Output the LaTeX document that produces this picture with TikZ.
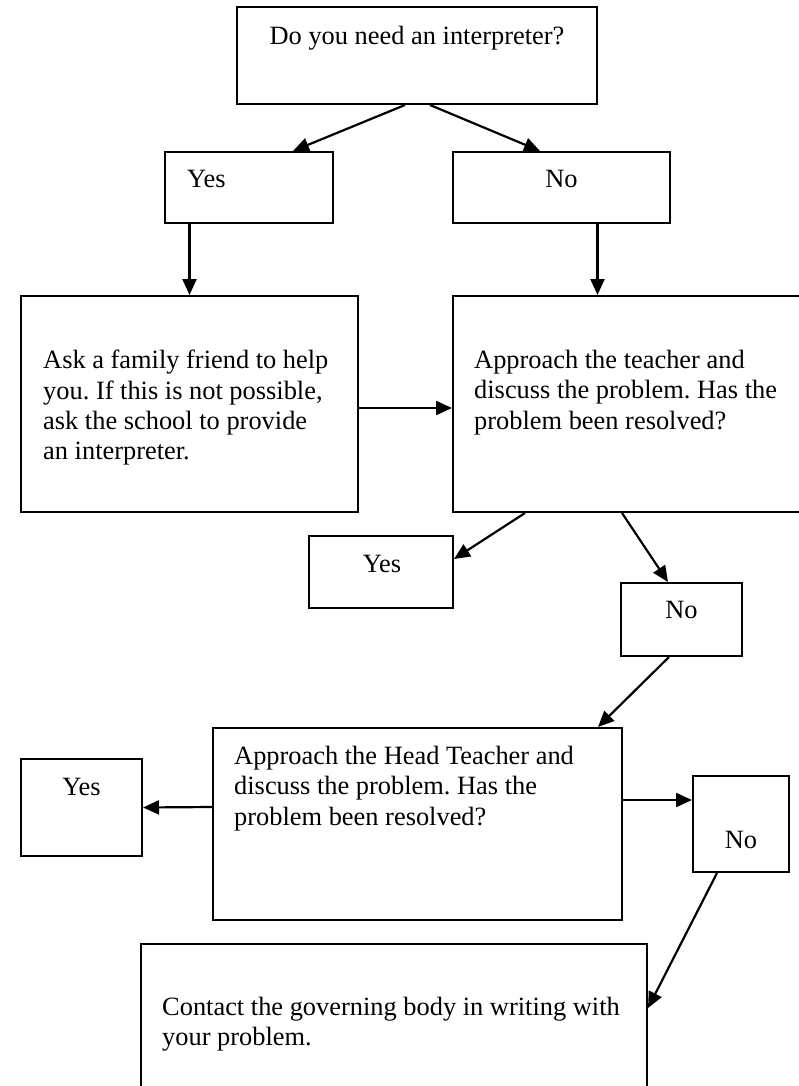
\documentclass[tikz,border=0pt]{standalone}
\usepackage{fontspec}
\setmainfont{Liberation Serif}
\usetikzlibrary{arrows.meta}
\frenchspacing

\begin{document}
\begin{tikzpicture}[x=1pt, y=-1pt,
  box/.style = {draw, line width=2pt, inner sep=0pt},
  msg/.style = {inner sep=0pt, align=left,
    font=\fontsize{26.4pt}{30.4pt}\selectfont},
  link/.style = {line width=2.2pt, -{Triangle[length=16pt,width=14pt]}}]
  \useasboundingbox[fill=white] (0,0) rectangle (799,1086);
  \node[box, minimum width=360pt, minimum height=97pt] (need) at (417,55.5) {};
  \node[box, minimum width=168pt, minimum height=71pt] (yes1) at (249,187.5) {};
  \node[box, minimum width=217pt, minimum height=71pt] (no1) at (561.5,187.5) {};
  \node[box, minimum width=337pt, minimum height=216pt] (ask) at (189.5,404) {};
  \node[box, minimum width=362pt, minimum height=216pt] (teach) at (634,404) {};
  \node[box, minimum width=144pt, minimum height=72pt] (yes2) at (381,572) {};
  \node[box, minimum width=121pt, minimum height=73pt] (no2) at (681.5,619.5) {};
  \node[box, minimum width=409pt, minimum height=192pt] (head) at (417.5,824) {};
  \node[box, minimum width=121pt, minimum height=97pt] (yes3) at (81.5,807.5) {};
  \node[box, minimum width=96pt, minimum height=96pt] (no3) at (741,824) {};
  \node[box, minimum width=506pt, minimum height=166pt] (contact) at (394,1027) {};

  \node[msg, anchor=base] (needtxt) at (417,45) {Do you need an interpreter?};
  \node[msg, anchor=base west] (yes1txt) at (187,188) {Yes};
  \node[msg, anchor=base] (no1txt) at (561.5,188) {No};
  \node[msg, anchor=north west] (asktxt) at (43,350)
    {Ask a family friend to help\\you. If this is not possible,\\ask the school to provide\\an interpreter.};
  \node[msg, anchor=north west] (teachtxt) at (474,350)
    {Approach the teacher and\\discuss the problem. Has the\\problem been resolved?};
  \node[msg, anchor=base] (yes2txt) at (382,572) {Yes};
  \node[msg, anchor=base] (no2txt) at (681.5,618) {No};
  \node[msg, anchor=north west] (headtxt) at (234,746)
    {Approach the Head Teacher and\\discuss the problem. Has the\\problem been resolved?};
  \node[msg, anchor=base] (yes3txt) at (81.5,795) {Yes};
  \node[msg, anchor=base] (no3txt) at (741,848) {No};
  \node[msg, anchor=north west] (contacttxt) at (162,997)
    {Contact the governing body in writing with\\your problem.};

  \draw[link] ([xshift=-12pt]need.south) -- ([xshift=44pt]yes1.north);
  \draw[link] ([xshift=13pt]need.south) -- ([xshift=-21.5pt]no1.north);
  \draw[link] (ask.north |- yes1.south) -- (ask.north);
  \draw[link] ([xshift=36pt]no1.south) -- ([xshift=-36.5pt]teach.north);
  \draw[link] ([yshift=-4pt]ask.east) -- ([yshift=-4pt]teach.west);
  \draw[link] ([xshift=-109pt]teach.south) -- ([yshift=13pt]yes2.east);
  \draw[link] ([xshift=-12pt]teach.south) -- ([xshift=-13.5pt]no2.north);
  \draw[link] ([xshift=-12.5pt]no2.south) -- ([xshift=180.5pt]head.north);
  \draw[link] ([yshift=17pt]head.west) -- (yes3.east);
  \draw[link] ([yshift=24pt]head.east) -- ([yshift=24pt]no3.west);
  \draw[link] ([xshift=-24pt]no3.south) -- ([yshift=19pt]contact.east);
\end{tikzpicture}
\end{document}
